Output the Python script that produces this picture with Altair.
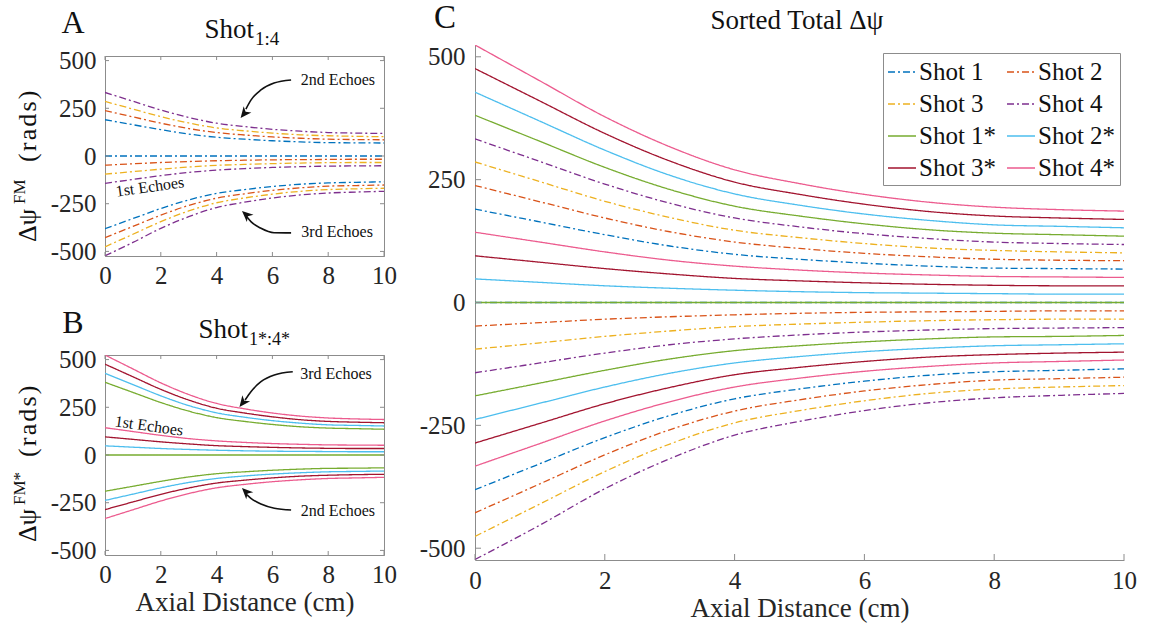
import altair as alt
import pandas as pd

FONT = "Liberation Serif"
X = [0, 1, 2, 3, 4, 5, 6, 7, 8, 9, 10]

# ---- curves (rads); e1/e2/e3 = 1st/2nd/3rd echoes ----
shot1_e1 = [0, 0, 0, 0, 0, 0, 0, 0, 0, 0, 0]
shot1_e2 = [190, 164, 138, 115, 98, 88, 80, 74, 70, 69, 68]
shot1_e3 = [-381, -328, -275, -230, -196, -176, -160, -148, -141, -138, -135]
shot2_e1 = [-48, -41, -34, -29, -25, -22, -20, -19, -18, -17, -17]
shot2_e2 = [238, 205, 172, 144, 123, 110, 100, 93, 88, 86, 85]
shot2_e3 = [-428, -369, -310, -259, -221, -198, -180, -167, -158, -155, -152]
shot3_e1 = [-95, -82, -69, -58, -49, -44, -40, -37, -35, -34, -34]
shot3_e2 = [286, 246, 206, 173, 147, 132, 120, 111, 106, 103, 101]
shot3_e3 = [-476, -410, -344, -288, -245, -220, -200, -185, -176, -172, -169]
shot4_e1 = [-143, -123, -103, -86, -74, -66, -60, -56, -53, -52, -51]
shot4_e2 = [333, 287, 241, 202, 172, 154, 140, 130, 123, 120, 118]
shot4_e3 = [-523, -453, -379, -318, -270, -242, -220, -204, -194, -189, -185]

shot1s_e1 = [0, 0, 0, 0, 0, 0, 0, 0, 0, 0, 0]
shot1s_e2 = [-190, -164, -138, -115, -98, -88, -80, -74, -70, -69, -67]
shot1s_e3 = [381, 328, 275, 230, 196, 176, 160, 148, 141, 138, 135]
shot2s_e1 = [48, 41, 34, 29, 25, 22, 20, 19, 18, 17, 17]
shot2s_e2 = [-238, -205, -172, -144, -123, -110, -100, -93, -88, -86, -84]
shot2s_e3 = [428, 369, 310, 259, 221, 198, 180, 167, 158, 155, 152]
shot3s_e1 = [95, 82, 69, 58, 49, 44, 40, 37, 35, 34, 34]
shot3s_e2 = [-286, -246, -206, -173, -147, -132, -120, -111, -106, -103, -101]
shot3s_e3 = [476, 410, 344, 288, 245, 220, 200, 185, 176, 172, 169]
shot4s_e1 = [143, 123, 103, 86, 74, 66, 60, 56, 53, 52, 51]
shot4s_e2 = [-333, -287, -241, -202, -172, -154, -140, -130, -123, -120, -117]
shot4s_e3 = [524, 451, 378, 317, 270, 242, 220, 204, 194, 189, 186]

SHOTS = ["Shot 1", "Shot 2", "Shot 3", "Shot 4", "Shot 1*", "Shot 2*", "Shot 3*", "Shot 4*"]
COLORS = ["#0072BD", "#D95319", "#EDB120", "#7E2F8E", "#77AC30", "#4DBEEE", "#A2142F", "#EC5B8E"]
DASHDOT = [7, 3, 2, 3]
SOLID = [1, 0]
DASHES = [DASHDOT, DASHDOT, DASHDOT, DASHDOT, SOLID, SOLID, SOLID, SOLID]

SERIES = {
    "Shot 1": [shot1_e1, shot1_e2, shot1_e3],
    "Shot 2": [shot2_e1, shot2_e2, shot2_e3],
    "Shot 3": [shot3_e1, shot3_e2, shot3_e3],
    "Shot 4": [shot4_e1, shot4_e2, shot4_e3],
    "Shot 1*": [shot1s_e1, shot1s_e2, shot1s_e3],
    "Shot 2*": [shot2s_e1, shot2s_e2, shot2s_e3],
    "Shot 3*": [shot3s_e1, shot3s_e2, shot3s_e3],
    "Shot 4*": [shot4s_e1, shot4s_e2, shot4s_e3],
}

X_TICKS = [0, 2, 4, 6, 8, 10]
Y_TICKS = [-500, -250, 0, 250, 500]

# annotations (panel A and B)
A_TXT = ["2nd Echoes", "1st Echoes", "3rd Echoes"]
A_TX = [8.35, 1.61, 8.32]
A_TY = [398, -162, -398]
A_TA = [0, 352, 0]
B_TXT = ["3rd Echoes", "1st Echoes", "2nd Echoes"]
B_TX = [8.28, 1.58, 8.35]
B_TY = [424, 152, -293]
B_TA = [0, 8, 0]

A_ARR = {
    "a2": ([6.67, 6.06, 5.59, 5.23, 5.05], [398, 382, 346, 293, 246]),
    "a3": ([6.67, 6.06, 5.59, 5.23, 5.09], [-403, -402, -379, -344, -320]),
}
A_HEAD_X = [4.86, 4.91]
A_HEAD_Y = [199, -288]
A_HEAD_ANG = [219, 312]
B_ARR = {
    "b3": ([6.73, 6.07, 5.59, 5.23, 5.02], [436, 419, 384, 332, 288]),
    "b2": ([6.67, 6.07, 5.59, 5.23, 5.09], [-288, -279, -257, -227, -209]),
}
B_HEAD_X = [4.82, 4.91]
B_HEAD_Y = [252, -173]
B_HEAD_ANG = [218, 315]

# ---------------------------------------------------------------------------
rows = []
for shot, echoes in SERIES.items():
    for e, ys in enumerate(echoes):
        for xv, yv in zip(X, ys):
            rows.append({"x": xv, "y": yv, "shot": shot, "curve": f"{shot}-e{e+1}"})
df = pd.DataFrame(rows)
df_plain = df[~df["shot"].str.endswith("*")]
df_star = df[df["shot"].str.endswith("*")]

ONE = pd.DataFrame({"k": [0]})
GRAY = "#8c8c8c"
LBL = "#262626"
XS = alt.Scale(domain=[0, 10], nice=False, zero=False)
YS = alt.Scale(domain=[-524, 524], nice=False, zero=False)
CS = alt.Scale(domain=SHOTS, range=COLORS)
DS = alt.Scale(domain=SHOTS, range=DASHES)
HEAD_PATH = "M0,0L-0.45,1L0,0.72L0.45,1Z"
HS = "\u200a"


def axis_x(title=None, pad=7):
    kw = dict(values=X_TICKS, ticks=False, tickSize=0, grid=False, domainColor=GRAY,
              domainWidth=1, labelFont=FONT, labelFontSize=25, labelColor=LBL,
              labelPadding=pad, labelFlush=False)
    if title:
        kw.update(title=title, titleFont=FONT, titleFontSize=27, titleFontWeight="normal",
                  titleColor=LBL, titlePadding=2)
    else:
        kw.update(title=None)
    return alt.Axis(**kw)


def axis_y(pad=9):
    return alt.Axis(values=Y_TICKS, ticks=False, tickSize=0, grid=False, domainColor=GRAY,
                    domainWidth=1, labelFont=FONT, labelFontSize=25, labelColor=LBL,
                    labelPadding=pad, labelExpr="'' + datum.value", title=None)


def text(t, x, y, size, align="center", angle=0, baseline="alphabetic", opacity=1):
    return alt.Chart(ONE).mark_text(text=t, font=FONT, fontSize=size, align=align,
                                    baseline=baseline, angle=angle, color="#111",
                                    opacity=opacity).encode(
        x=alt.value(x), y=alt.value(y))


def marker(x, y):
    # invisible point used only to pin the layout bounds
    return text(".", x, y, 1, align="left", baseline="top", opacity=0)


def panel(data, w, h, ax, ay, legend, box, tick_len):
    lines = alt.Chart(data).mark_line(interpolate="monotone", strokeWidth=1.3, clip=True).encode(
        x=alt.X("x:Q", scale=XS, axis=ax),
        y=alt.Y("y:Q", scale=YS, axis=ay),
        color=alt.Color("shot:N", scale=CS, legend=legend, sort=SHOTS),
        strokeDash=alt.StrokeDash("shot:N", scale=DS, legend=legend, sort=SHOTS),
        detail="curve:N",
    )
    tx = pd.DataFrame({"v": X_TICKS})
    ty = pd.DataFrame({"v": Y_TICKS})
    layers = [lines,
              alt.Chart(tx).mark_rule(color=GRAY, strokeWidth=1).encode(
                  x=alt.X("v:Q", scale=XS, axis=ax), y=alt.value(h), y2=alt.value(h - tick_len)),
              alt.Chart(ty).mark_rule(color=GRAY, strokeWidth=1).encode(
                  y=alt.Y("v:Q", scale=YS, axis=ay), x=alt.value(0), x2=alt.value(tick_len))]
    if box:
        layers += [alt.Chart(tx).mark_rule(color=GRAY, strokeWidth=1).encode(
                       x=alt.X("v:Q", scale=XS, axis=ax), y=alt.value(0), y2=alt.value(tick_len)),
                   alt.Chart(ty).mark_rule(color=GRAY, strokeWidth=1).encode(
                       y=alt.Y("v:Q", scale=YS, axis=ay), x=alt.value(w), x2=alt.value(w - tick_len))]
    return layers


def annotations(txt, tx, ty, ta, arrows, hx, hy, ha, ax, ay):
    tdf = pd.DataFrame({"t": txt, "x": tx, "y": ty, "a": ta})
    out = [alt.Chart(tdf).mark_text(font=FONT, fontSize=16, color="#111", baseline="middle").encode(
        x=alt.X("x:Q", scale=XS, axis=ax), y=alt.Y("y:Q", scale=YS, axis=ay),
        text="t:N", angle=alt.Angle("a:Q", scale=None))]
    arows = []
    for k, (xs, ys) in arrows.items():
        for xv, yv in zip(xs, ys):
            arows.append({"id": k, "x": xv, "y": yv})
    out.append(alt.Chart(pd.DataFrame(arows)).mark_line(
        color="#111", strokeWidth=1.6, interpolate="monotone").encode(
        x=alt.X("x:Q", scale=XS, axis=ax), y=alt.Y("y:Q", scale=YS, axis=ay), detail="id:N"))
    hdf = pd.DataFrame({"x": hx, "y": hy, "a": ha})
    out.append(alt.Chart(hdf).mark_point(shape=HEAD_PATH, filled=True, size=484, opacity=1,
                                         color="#111", strokeWidth=0).encode(
        x=alt.X("x:Q", scale=XS, axis=ax), y=alt.Y("y:Q", scale=YS, axis=ay),
        angle=alt.Angle("a:Q", scale=None)))
    return out


RADS = "(" + HS + "r" + HS + "a" + HS + "d" + HS + "s" + HS + ")"

# ---------------- panel A ----------------
WA, HA = 279, 200
axA, ayA = axis_x(None), axis_y()
A = alt.layer(
    *panel(df_plain, WA, HA, axA, ayA, None, True, 4),
    *annotations(A_TXT, A_TX, A_TY, A_TA, A_ARR, A_HEAD_X, A_HEAD_Y, A_HEAD_ANG, axA, ayA),
    text("A", -32, -23, 32),
    text("Shot", 149, -18, 27, align="right"),
    text("1:4", 150, -11, 19, align="left"),
    text("Δψ", -69, 186, 26, align="left", angle=270),
    text("FM", -80, 148, 17, align="left", angle=270),
    text(RADS, -69, 106, 26, align="left", angle=270),
    marker(-100, -20),
    marker(300, -20),
).properties(width=WA, height=HA, view=alt.ViewBackground(stroke=GRAY))

# ---------------- panel B ----------------
axB, ayB = axis_x("Axial Distance (cm)"), axis_y()
B = alt.layer(
    *panel(df_star, WA, HA, axB, ayB, None, True, 4),
    *annotations(B_TXT, B_TX, B_TY, B_TA, B_ARR, B_HEAD_X, B_HEAD_Y, B_HEAD_ANG, axB, ayB),
    text("B", -32, -22, 32),
    text("Shot", 143, -17, 27, align="right"),
    text("1*:4*", 144, -10, 18, align="left"),
    text("Δψ", -69, 187, 26, align="left", angle=270),
    text("FM*", -80, 150, 17, align="left", angle=270),
    text(RADS, -69, 102, 26, align="left", angle=270),
).properties(width=WA, height=HA, view=alt.ViewBackground(stroke=GRAY))

# ---------------- panel C ----------------
WC, HC = 649, 515
legC = alt.Legend(orient="none", legendX=408, legendY=8, columns=2, direction="horizontal",
                  symbolType="stroke",
                  symbolSize=784, symbolStrokeWidth=1.3, labelFont=FONT, labelFontSize=25,
                  labelColor="#111", strokeColor=GRAY, fillColor="white", padding=4,
                  rowPadding=4, columnPadding=7, labelOffset=2, title=None, labelLimit=300)
axC, ayC = axis_x("Axial Distance (cm)", pad=8), axis_y(pad=10)
C = alt.layer(
    *panel(df, WC, HC, axC, ayC, legC, False, 6),
    text("C", -30, -17, 33),
    text("Sorted Total Δψ", 322, -16, 27),
    marker(-65, 0),
).properties(width=WC, height=HC, view=alt.ViewBackground(stroke=None))

spacer = alt.Chart(ONE).mark_point(opacity=0).encode(
    x=alt.X("k:Q", axis=None), y=alt.Y("k:Q", axis=None)
).properties(width=WA, height=1, view=alt.ViewBackground(stroke=None))

AB = alt.vconcat(A, B, spacing=99, bounds="flush").resolve_scale(
    color="independent", strokeDash="independent")
left = alt.vconcat(spacer, AB, spacing=10, bounds="flush").resolve_scale(
    color="independent", strokeDash="independent")

chart = alt.hconcat(left, C, spacing=4).resolve_scale(
    color="independent", strokeDash="independent"
).properties(
    padding={"left": 4, "top": 2, "right": 10, "bottom": 6},
    background="white",
)

chart.save("out.html", embed_options={"renderer": "svg", "actions": False})
